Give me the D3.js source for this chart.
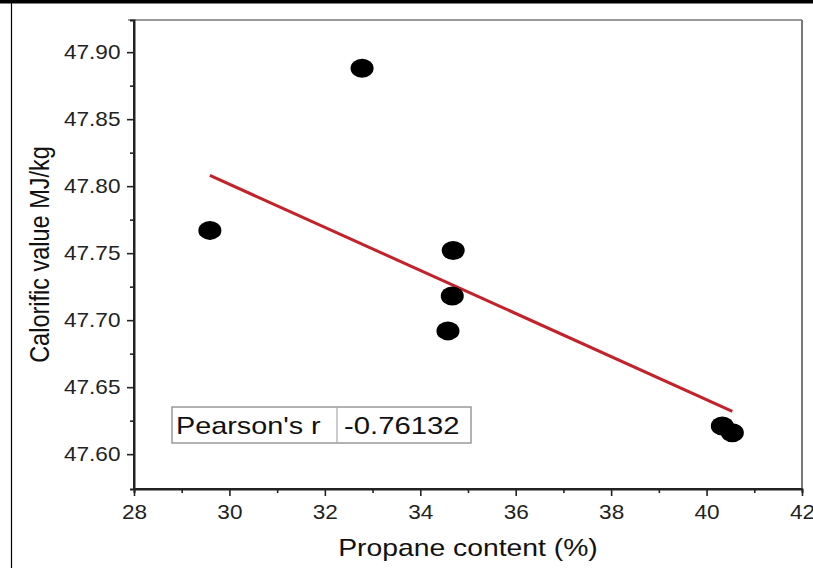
<!DOCTYPE html>
<html><head><meta charset="utf-8">
<script src="https://cdn.jsdelivr.net/npm/d3@7"></script>
<style>body{margin:0;background:#fff;} svg{display:block;font-family:"Liberation Sans",Arial,sans-serif;}</style>
</head><body>
<svg id="c" width="813" height="568"></svg>
<script>
// Data
const propane = [29.59, 32.78, 34.69, 34.67, 34.58, 40.33, 40.54];
const calorific = [47.767, 47.888, 47.752, 47.718, 47.692, 47.621, 47.616];
const fitX = [29.59, 40.54];
const fitY = [47.808, 47.632];
const xTicks = [28, 30, 32, 34, 36, 38, 40, 42];
const yTicks = [47.60, 47.65, 47.70, 47.75, 47.80, 47.85, 47.90];
const statLabel = "Pearson's r";
const statValue = "-0.76132";
const xTitle = "Propane content (%)";
const yTitle = "Calorific value MJ/kg";

const svg = d3.select("#c");
const L = 134, R = 802, T = 20, B = 489;
const x = d3.scaleLinear().domain([28, 42]).range([L, R]);
const y = d3.scaleLinear().domain([47.574, 47.924]).range([B, T]);
const SX = 1.13;

// outer frame
svg.append("rect").attr("x", 0).attr("y", 0).attr("width", 813).attr("height", 3.5).attr("fill", "#000");
svg.append("line").attr("x1", 11.5).attr("x2", 11.5).attr("y1", 0).attr("y2", 568).attr("stroke", "#000").attr("stroke-width", 1.2);

// top & right frame
svg.append("line").attr("x1", L - 6).attr("x2", R).attr("y1", T).attr("y2", T).attr("stroke", "#999").attr("stroke-width", 2);
svg.append("line").attr("x1", R).attr("x2", R).attr("y1", T).attr("y2", B).attr("stroke", "#777").attr("stroke-width", 2);

// minor ticks
const yMinor = yTicks.map(v => v + 0.025).filter(v => v < 47.924);
const xMinor = d3.range(29, 42, 2);
const gy = svg.append("g").attr("transform", `translate(${L},0)`);
gy.call(d3.axisLeft(y).tickValues(yMinor).tickSize(4).tickFormat(""));
const gx = svg.append("g").attr("transform", `translate(0,${B})`);
gx.call(d3.axisBottom(x).tickValues(xMinor).tickSize(4).tickFormat(""));

// major axes
const yAxis = svg.append("g").attr("transform", `translate(${L},0)`)
  .call(d3.axisLeft(y).tickValues(yTicks).tickSize(7).tickSizeOuter(0).tickPadding(5).tickFormat(d3.format(".2f")));
const xAxis = svg.append("g").attr("transform", `translate(0,${B})`)
  .call(d3.axisBottom(x).tickValues(xTicks).tickSize(7).tickSizeOuter(0).tickPadding(9).tickFormat(d3.format("d")));
[gy, gx, yAxis, xAxis].forEach(g => {
  g.select(".domain").attr("stroke", "#222").attr("stroke-width", 2);
  g.selectAll(".tick line").attr("stroke", "#222").attr("stroke-width", 1.6);
});
yAxis.selectAll("text").attr("font-size", 20).attr("fill", "#222").attr("transform", `scale(${SX},1)`);
xAxis.selectAll("text").attr("font-size", 20).attr("fill", "#222").attr("transform", `scale(${SX},1)`);
xAxis.select(".domain").attr("d", `M${L},0H${R}`);
yAxis.select(".domain").attr("d", `M0,${B}V${T}`);

// fit line
svg.append("line")
  .attr("x1", x(fitX[0])).attr("y1", y(fitY[0]))
  .attr("x2", x(fitX[1])).attr("y2", y(fitY[1]))
  .attr("stroke", "#c3222a").attr("stroke-width", 3);

// points
svg.append("g").selectAll("ellipse").data(propane).join("ellipse")
  .attr("cx", d => x(d)).attr("cy", (d, i) => y(calorific[i]))
  .attr("rx", 11.5).attr("ry", 9.5).attr("fill", "#000");

// Pearson box
const bx = 172, by = 407, bw = 299, bh = 36, bdiv = 337;
svg.append("rect").attr("x", bx).attr("y", by).attr("width", bw).attr("height", bh)
  .attr("fill", "#fff").attr("stroke", "#999").attr("stroke-width", 1.5);
svg.append("line").attr("x1", bdiv).attr("x2", bdiv).attr("y1", by).attr("y2", by + bh)
  .attr("stroke", "#aaa").attr("stroke-width", 1.2);
svg.append("text").attr("transform", `translate(176,434) scale(1.2,1)`)
  .attr("font-size", 24).attr("fill", "#111").text(statLabel);
svg.append("text").attr("transform", `translate(344,434) scale(1.22,1)`)
  .attr("font-size", 24).attr("fill", "#111").text(statValue);

// titles
svg.append("text").attr("transform", `translate(${(L + R) / 2},556) scale(1.18,1)`)
  .attr("text-anchor", "middle").attr("font-size", 24).attr("fill", "#111").text(xTitle);
svg.append("text").attr("transform", `translate(49,${(T + B) / 2}) scale(1.15,1) rotate(-90)`)
  .attr("text-anchor", "middle").attr("font-size", 23.5).attr("fill", "#111").text(yTitle);
</script>
</body></html>
